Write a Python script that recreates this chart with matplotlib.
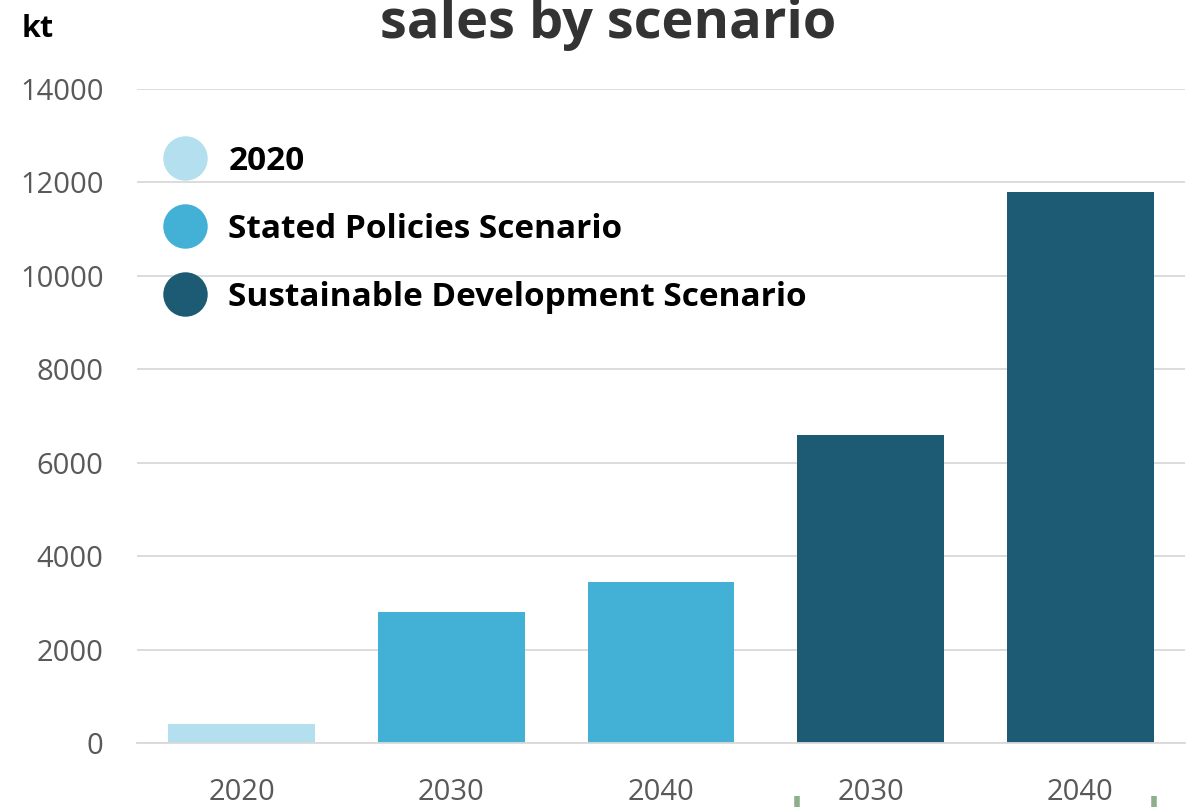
import matplotlib
matplotlib.use("Agg")
import matplotlib.pyplot as plt
import matplotlib.transforms as mtransforms
from matplotlib.lines import Line2D

# data
years = ["2020", "2030", "2040", "2030", "2040"]
groups = ["2020", "Stated Policies Scenario", "Stated Policies Scenario",
          "Sustainable Development Scenario", "Sustainable Development Scenario"]
values = [400, 2800, 3450, 6600, 11800]
legend_labels = ["2020", "Stated Policies Scenario", "Sustainable Development Scenario"]
colors = {"2020": "#b3dfee",
          "Stated Policies Scenario": "#43b0d6",
          "Sustainable Development Scenario": "#1c5b73"}
yticks = [0, 2000, 4000, 6000, 8000, 10000, 12000, 14000]

plt.rcParams['font.family'] = ['Open Sans', 'DejaVu Sans']

fig = plt.figure(figsize=(11.93, 8.07), dpi=100)
ax = fig.add_axes([137/1193, 64/807, 1048/1193, 654/807])

x = range(len(values))
bar_w = 0.7
ax.bar(x, values, width=bar_w, color=[colors[g] for g in groups], zorder=3)

ax.set_xlim(-0.5, len(values) - 0.5)
ax.set_ylim(0, 14000)
ax.set_yticks(yticks)
ax.set_yticklabels([str(t) for t in yticks])
ax.set_xticks(list(x))
ax.set_xticklabels(years)
ax.tick_params(axis='y', length=0, pad=24, labelsize=21, labelcolor="#595959")
ax.tick_params(axis='x', length=0, pad=25, labelsize=21, labelcolor="#595959")
ax.grid(axis='y', color="#d9d9d9", linewidth=1.3, zorder=0)
for s in ["top", "right", "left"]:
    ax.spines[s].set_visible(False)
ax.spines["bottom"].set_color("#d9d9d9")
ax.spines["bottom"].set_linewidth(1.3)
ax.spines["bottom"].set_zorder(4)

# legend with round markers
handles = [Line2D([], [], linestyle="none", marker="o", markersize=32,
                  markerfacecolor=colors[l], markeredgewidth=0) for l in legend_labels]
leg = ax.legend(handles, legend_labels, loc="upper left", bbox_to_anchor=(0.0, 0.935),
                frameon=False, prop={"weight": "bold", "size": 24},
                labelspacing=1.05, handletextpad=0.24, handlelength=2.1,
                borderaxespad=0.0)
for t in leg.get_texts():
    t.set_color("#000000")

# group bracket stubs under the SDS bars (cut off at the bottom)
trans = mtransforms.blended_transform_factory(ax.transData, ax.transAxes)
sds = [i for i, g in enumerate(groups) if g == legend_labels[2]]
for xe in [sds[0] - bar_w / 2, sds[-1] + bar_w / 2]:
    ax.plot([xe, xe], [-0.081, -0.11], color="#8db08a", linewidth=4,
            transform=trans, clip_on=False, solid_capstyle="butt")

fig.text(22/1193, 1 - 37/807, "kt", fontsize=22, fontweight="bold", color="#000000")
# title is cropped at the top edge in the reference too
fig.text(608/1193, 1 - 38/807, "sales by scenario", fontsize=39, fontweight="bold",
         color="#333333", ha="center", va="baseline")

fig.savefig("out.png", dpi=100)
